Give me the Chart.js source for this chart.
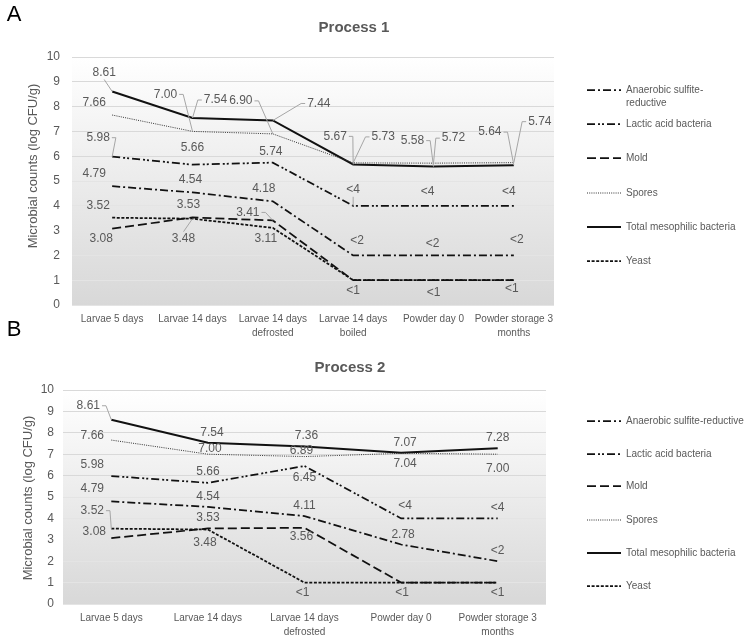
<!DOCTYPE html>
<html>
<head>
<meta charset="utf-8">
<script src="https://cdn.jsdelivr.net/npm/chart.js@4.4.0/dist/chart.umd.min.js"></script>
<style>
    html, body { margin: 0; padding: 0; background: #fff; }
    #wrap { position: relative; width: 750px; height: 643px; overflow: hidden; }
    canvas { position: absolute; left: 0; }
    #chartA { top: 0; }
    #chartB { top: 318px; }
</style>
</head>
<body>
<div id="wrap">
    <canvas id="chartA" width="750" height="340" style="width:750px;height:340px"></canvas>
    <canvas id="chartB" width="750" height="325" style="width:750px;height:325px"></canvas>
</div>
<script>
(function () {
    'use strict';

    // ── Data ────────────────────────────────────────────────
    var seriesNames = ['Anaerobic sulfite-reductive', 'Lactic acid bacteria', 'Mold',
                       'Spores', 'Total mesophilic bacteria', 'Yeast'];
    var detectionLimits = [2, 4, 1, 0, 0, 1]; // value at limit is shown as "<limit"
    var yTicks = [0, 10, 1]; // min, max, step

    var categories1 = ['Larvae 5 days', 'Larvae 14 days', ['Larvae 14 days', 'defrosted'],
                       ['Larvae 14 days', 'boiled'], 'Powder day 0', ['Powder storage 3', 'months']];
    var asr1    = [4.79, 4.54, 4.18, 2, 2, 2];
    var lab1    = [5.98, 5.66, 5.74, 4, 4, 4];
    var mold1   = [3.08, 3.53, 3.41, 1, 1, 1];
    var spores1 = [7.66, 7.00, 6.90, 5.73, 5.72, 5.74];
    var tmb1    = [8.61, 7.54, 7.44, 5.67, 5.58, 5.64];
    var yeast1  = [3.52, 3.48, 3.11, 1, 1, 1];

    var categories2 = ['Larvae 5 days', 'Larvae 14 days', ['Larvae 14 days', 'defrosted'],
                       'Powder day 0', ['Powder storage 3', 'months']];
    var asr2    = [4.79, 4.54, 4.11, 2.78, 2];
    var lab2    = [5.98, 5.66, 6.45, 4, 4];
    var mold2   = [3.08, 3.53, 3.56, 1, 1];
    var spores2 = [7.66, 7.00, 6.89, 7.04, 7.00];
    var tmb2    = [8.61, 7.54, 7.36, 7.07, 7.28];
    var yeast2  = [3.52, 3.48, 1, 1, 1];

    // ── Styles ──────────────────────────────────────────────
    var FONT = '"Liberation Sans", Arial, sans-serif';
    var GREY_TEXT = '#595959';
    var lineStyles = [
        { dash: [8, 3, 2, 3],       width: 1.75, color: '#111' },
        { dash: [8, 3, 2, 2, 2, 3], width: 1.75, color: '#111' },
        { dash: [9, 4],             width: 1.75, color: '#111' },
        { dash: [1, 1.2],           width: 1,    color: '#333' },
        { dash: [],                 width: 2,    color: '#111' },
        { dash: [3, 1.6],           width: 1.75, color: '#111' }
    ];

    // label offsets from the point: [dx, dy, leaderLine]; null = no label
    var offsets1 = [
        [[-18, -13, 0], [-2, -13, 0], [-9, -13, 0], [4, -15, 0], [-1, -12, 0], [3, -16, 0]],
        [[-14, -19, 1], [0, -17, 0], [-2, -11, 0], [0, -16, 1], [-6, -14, 0], [-5, -14, 0]],
        [[-11, 10, 0], [-4, -13, 0], [-25, -8, 1], [0, 10, 0], [0, 12, 0], [-2, 8, 0]],
        [[-18, -12, 0], [-27, -37, 1], [-32, -33, 1], [30, -26, 1], [20, -25, 1], [26, -41, 1]],
        [[-8, -19, 1], [23, -18, 1], [46, -17, 1], [-18, -28, 1], [-21, -26, 1], [-24, -33, 1]],
        [[-14, -12, 0], [-9, 20, 1], [-7, 11, 0], null, null, null]
    ];
    var offsets2 = [
        [[-19, -13, 0], [0, -10, 0], [0, -10, 0], [2, -10, 0], [0, -11, 0]],
        [[-19, -11, 0], [0, -11, 0], [0, 12, 0], [4, -13, 0], [0, -11, 0]],
        [[-17, -6, 0], [0, -11, 0], [-3, 9, 0], [1, 10, 0], [0, 10, 0]],
        [[-19, -4, 0], [2, -6, 0], [-3, -6, 0], [4, 10, 0], [0, 14, 0]],
        [[-23, -14, 1], [4, -10, 0], [2, -11, 0], [4, -10, 0], [0, -11, 0]],
        [[-19, -18, 1], [-3, 13, 0], [-2, 10, 0], null, null]
    ];

    function fmt(v, limit) {
        return v <= limit ? '<' + limit : v.toFixed(2);
    }

    // ── Plugins ─────────────────────────────────────────────
    var plotBackground = {
        id: 'plotBackground',
        beforeDraw: function (chart) {
            var a = chart.chartArea, ctx = chart.ctx;
            var g = ctx.createLinearGradient(0, a.top, 0, a.bottom);
            g.addColorStop(0, '#ffffff');
            g.addColorStop(1, '#d8d8d8');
            ctx.save();
            ctx.fillStyle = g;
            ctx.fillRect(a.left, a.top, a.right - a.left, a.bottom - a.top);
            ctx.restore();
        }
    };

    var pointLabels = {
        id: 'pointLabels',
        afterDatasetsDraw: function (chart) {
            var ctx = chart.ctx;
            ctx.save();
            ctx.font = '12px ' + FONT;
            ctx.textAlign = 'center';
            ctx.textBaseline = 'middle';
            chart.data.datasets.forEach(function (ds, i) {
                var meta = chart.getDatasetMeta(i);
                meta.data.forEach(function (pt, j) {
                    var off = ds.labelOffsets[j];
                    if (!off) return;
                    var txt = fmt(ds.data[j], ds.limit);
                    var lx = pt.x + off[0], ly = pt.y + off[1];
                    if (off[2]) {
                        var w = ctx.measureText(txt).width / 2 + 2, h = 7;
                        ctx.strokeStyle = '#a6a6a6';
                        ctx.lineWidth = 1;
                        ctx.setLineDash([]);
                        ctx.beginPath();
                        if (pt.x > lx + w || pt.x < lx - w) {
                            var dir = pt.x > lx ? 1 : -1;
                            ctx.moveTo(lx + dir * w, ly);
                            ctx.lineTo(lx + dir * (w + 4), ly);
                        } else {
                            ctx.moveTo(lx, pt.y > ly ? ly + h : ly - h);
                        }
                        ctx.lineTo(pt.x, pt.y);
                        ctx.stroke();
                    }
                    ctx.fillStyle = GREY_TEXT;
                    ctx.fillText(txt, lx, ly);
                });
            });
            ctx.restore();
        }
    };

    var panelDecor = {
        id: 'panelDecor',
        afterDraw: function (chart, args, o) {
            var ctx = chart.ctx;
            ctx.save();
            ctx.textBaseline = 'middle';

            ctx.fillStyle = '#000';
            ctx.textAlign = 'center';
            ctx.font = '22px ' + FONT;
            ctx.fillText(o.letter, o.letterX, o.letterY);

            ctx.fillStyle = GREY_TEXT;
            ctx.font = 'bold 15px ' + FONT;
            ctx.fillText(o.title, o.titleX, o.titleY);

            ctx.save();
            ctx.translate(o.yTitleX, o.yTitleY);
            ctx.rotate(-Math.PI / 2);
            ctx.font = '13px ' + FONT;
            ctx.fillText('Microbial counts (log CFU/g)', 0, 0);
            ctx.restore();

            // legend
            ctx.font = '10px ' + FONT;
            ctx.textAlign = 'left';
            chart.data.datasets.forEach(function (ds, i) {
                var y = o.legendRows[i];
                ctx.strokeStyle = ds.borderColor;
                ctx.lineWidth = ds.borderWidth;
                ctx.setLineDash(ds.borderDash);
                ctx.beginPath();
                ctx.moveTo(o.legendX, y);
                ctx.lineTo(o.legendX + 34, y);
                ctx.stroke();
                ctx.setLineDash([]);

                var text = ds.label;
                var lines = [text];
                if (ctx.measureText(text).width > o.legendMaxWidth) {
                    var cut = text.indexOf('-') + 1;
                    lines = [text.slice(0, cut), text.slice(cut)];
                }
                lines.forEach(function (ln, k) {
                    ctx.fillText(ln, o.legendX + 39, y + k * 13);
                });
            });
            ctx.restore();
        }
    };

    // ── Chart builder ───────────────────────────────────────
    function buildChart(canvasId, categories, series, offsets, layout, decor) {
        var datasets = series.map(function (values, i) {
            return {
                label: seriesNames[i],
                data: values,
                limit: detectionLimits[i],
                labelOffsets: offsets[i],
                borderColor: lineStyles[i].color,
                borderWidth: lineStyles[i].width,
                borderDash: lineStyles[i].dash,
                pointRadius: 0,
                tension: 0,
                fill: false
            };
        });

        return new Chart(document.getElementById(canvasId).getContext('2d'), {
            type: 'line',
            data: { labels: categories, datasets: datasets },
            plugins: [plotBackground, pointLabels, panelDecor],
            options: {
                responsive: false,
                animation: false,
                events: [],
                layout: { padding: { left: 0, top: layout.top, right: layout.right, bottom: 0 } },
                plugins: {
                    legend: { display: false },
                    tooltip: { enabled: false },
                    panelDecor: decor
                },
                scales: {
                    x: {
                        offset: true,
                        afterFit: function (s) { s.height = layout.xHeight; },
                        grid: { display: false, drawTicks: false },
                        border: { display: false },
                        ticks: {
                            autoSkip: false,
                            maxRotation: 0,
                            padding: 7,
                            color: GREY_TEXT,
                            font: { family: FONT, size: 10, lineHeight: 1.4 }
                        }
                    },
                    y: {
                        min: yTicks[0],
                        max: yTicks[1],
                        afterFit: function (s) { s.width = layout.yWidth; },
                        grid: {
                            drawTicks: false,
                            color: function (c) { return c.tick && c.tick.value >= 6 ? '#d9d9d9' : '#e4e4e4'; }
                        },
                        border: { display: false },
                        ticks: {
                            stepSize: yTicks[2],
                            padding: layout.tickPad,
                            color: GREY_TEXT,
                            font: { family: FONT, size: 12 }
                        }
                    }
                }
            }
        });
    }

    buildChart('chartA', categories1,
        [asr1, lab1, mold1, spores1, tmb1, yeast1], offsets1,
        { top: 57, right: 196, xHeight: 35, yWidth: 72, tickPad: 12 },
        {
            letter: 'A', letterX: 14, letterY: 15,
            title: 'Process 1', titleX: 354, titleY: 28,
            yTitleX: 33, yTitleY: 166,
            legendX: 587, legendMaxWidth: 112,
            legendRows: [90, 124, 158, 193, 227, 261]
        });

    buildChart('chartB', categories2,
        [asr2, lab2, mold2, spores2, tmb2, yeast2], offsets2,
        { top: 72, right: 204, xHeight: 39, yWidth: 63, tickPad: 9 },
        {
            letter: 'B', letterX: 14, letterY: 12,
            title: 'Process 2', titleX: 350, titleY: 50,
            yTitleX: 28, yTitleY: 180,
            legendX: 587, legendMaxWidth: 140,
            legendRows: [103, 136, 168, 202, 235, 268]
        });
})();
</script>
</body>
</html>
